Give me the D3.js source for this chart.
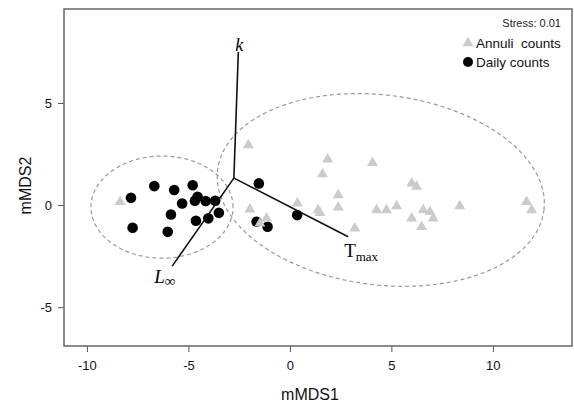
<!DOCTYPE html>
<html>
<head>
<meta charset="utf-8">
<script src="https://cdn.jsdelivr.net/npm/d3@7"></script>
<style>
  body { margin: 0; background: #fff; }
  text { font-family: "Liberation Sans", Arial, sans-serif; }
  .serif { font-family: "Liberation Serif", "Times New Roman", serif; }
</style>
</head>
<body>
<div id="chart"></div>
<script>
// mMDS scores
const dailyX = [-8.95, -7.83, -7.75, -6.68, -5.70, -5.86, -6.02, -5.31, -4.79, -4.68,
                -4.55, -4.15, -3.68, -4.63, -4.02, -3.50, -1.53, -1.64, -1.10, 0.36];
const dailyY = [-0.54, 0.36, -1.11, 0.93, 0.74, -0.46, -1.31, 0.08, 0.97, 0.21,
                0.41, 0.20, 0.21, -0.77, -0.65, -0.38, 1.06, -0.82, -1.06, -0.49];

const annuliX = [1.07, 1.86, 1.61, 4.07, 2.38, 2.38, 1.48, 0.37, 3.20, 4.27, 4.76, 5.26,
                 6.00, 6.24, 6.00, 6.57, 6.90, 7.06, 6.49, 8.37, 11.66, 11.91,
                 -2.05, -8.37, -1.97, -1.15, 1.39, -1.48];
const annuliY = [4.03, 2.24, 1.52, 2.07, 0.49, -0.11, -0.38, 0.08, -1.14, -0.25, -0.25, -0.05,
                 1.06, 0.90, -0.65, -0.25, -0.33, -0.65, -1.06, -0.05, 0.16, -0.25,
                 2.94, 0.16, -0.21, -0.65, -0.25, -0.90];

// group ellipses: centre x, centre y, semi axis x, semi axis y, rotation (deg)
const ellipseNames = ["daily", "annuli"];
const ellipseCx = [-6.3, 4.48];
const ellipseCy = [-0.1, 0.74];
const ellipseA = [3.5, 8.1];
const ellipseB = [2.5, 4.65];
const ellipseRot = [0, -7];

// biplot vectors
const vecOrigin = [-2.76, 1.32];
const vecNames = ["k", "Linf", "Tmax"];
const vecX = [-2.54, -5.80, 2.87];
const vecY = [7.5, -2.99, -1.55];

const xTicks = [-10, -5, 0, 5, 10];
const yTicks = [-5, 0, 5];

const width = 574, height = 402;
const margin = {top: 9, right: 2, bottom: 56, left: 64};

const svg = d3.select("#chart").append("svg")
    .attr("width", width)
    .attr("height", height);

const x = d3.scaleLinear().domain([-11.13, 13.9]).range([margin.left, width - margin.right]);
const y = d3.scaleLinear().domain([-6.9, 9.6]).range([height - margin.bottom, margin.top]);

// axes
const xAxis = svg.append("g")
    .attr("transform", `translate(0,${height - margin.bottom})`)
    .call(d3.axisBottom(x).tickValues(xTicks).tickSize(6).tickPadding(9).tickFormat(d3.format("d")));
const yAxis = svg.append("g")
    .attr("transform", `translate(${margin.left},0)`)
    .call(d3.axisLeft(y).tickValues(yTicks).tickSize(6).tickPadding(6).tickFormat(d3.format("d")));

[xAxis, yAxis].forEach(g => {
    g.select(".domain").remove();
    g.selectAll(".tick line").attr("stroke", "#555");
    g.selectAll(".tick text").attr("font-size", 13).attr("fill", "#111")
        .attr("font-family", "'Liberation Sans', Arial, sans-serif")
        .text(d => d < 0 ? "-" + Math.abs(d) : d);
});

svg.append("rect")
    .attr("x", margin.left)
    .attr("y", margin.top)
    .attr("width", width - margin.left - margin.right)
    .attr("height", height - margin.top - margin.bottom)
    .attr("fill", "none")
    .attr("stroke", "#666")
    .attr("stroke-width", 1.5);

svg.append("text")
    .attr("x", (margin.left + width - margin.right) / 2 - 8)
    .attr("y", height - 2)
    .attr("text-anchor", "middle")
    .attr("font-size", 16)
    .attr("fill", "#111")
    .text("mMDS1");

svg.append("text")
    .attr("transform", `translate(31,${(margin.top + height - margin.bottom) / 2 + 8}) rotate(-90)`)
    .attr("text-anchor", "middle")
    .attr("font-size", 16)
    .attr("fill", "#111")
    .text("mMDS2");

// ellipses
const line = d3.line().x(d => x(d[0])).y(d => y(d[1]));
ellipseNames.forEach((name, i) => {
    const rot = ellipseRot[i] * Math.PI / 180;
    const pts = d3.range(0, 361, 3).map(t => {
        const a = t * Math.PI / 180;
        const ex = ellipseA[i] * Math.cos(a), ey = ellipseB[i] * Math.sin(a);
        return [ellipseCx[i] + ex * Math.cos(rot) - ey * Math.sin(rot),
                ellipseCy[i] + ex * Math.sin(rot) + ey * Math.cos(rot)];
    });
    svg.append("path")
        .attr("class", "ellipse " + name)
        .attr("d", line(pts))
        .attr("fill", "none")
        .attr("stroke", "#999")
        .attr("stroke-width", 1.2)
        .attr("stroke-dasharray", "4,3");
});

const tri = d3.symbol().type(d3.symbolTriangle).size(52);

// daily counts
svg.selectAll(".daily")
    .data(dailyX.map((d, i) => [d, dailyY[i]]))
    .enter().append("circle")
    .attr("class", "daily")
    .attr("cx", d => x(d[0]))
    .attr("cy", d => y(d[1]))
    .attr("r", 5.3)
    .attr("fill", "#000");

// annuli counts
svg.selectAll(".annuli")
    .data(annuliX.map((d, i) => [d, annuliY[i]]))
    .enter().append("path")
    .attr("class", "annuli")
    .attr("d", tri)
    .attr("transform", d => `translate(${x(d[0])},${y(d[1])})`)
    .attr("fill", "#cbcbcb");

// biplot vectors
vecNames.forEach((name, i) => {
    svg.append("line")
        .attr("x1", x(vecOrigin[0])).attr("y1", y(vecOrigin[1]))
        .attr("x2", x(vecX[i])).attr("y2", y(vecY[i]))
        .attr("stroke", "#111")
        .attr("stroke-width", 1.6);
});

svg.append("text").attr("class", "serif")
    .attr("x", x(vecX[0]) + 1).attr("y", y(vecY[0]) - 1)
    .attr("text-anchor", "middle").attr("font-size", 18).attr("font-style", "italic")
    .text("k");

const lLab = svg.append("text").attr("class", "serif")
    .attr("x", x(vecX[1]) - 18).attr("y", y(vecY[1]) + 17)
    .attr("font-size", 19);
lLab.append("tspan").attr("font-style", "italic").text("L");
lLab.append("tspan").attr("font-size", 15).attr("dy", 3).text("∞");

const tLab = svg.append("text").attr("class", "serif")
    .attr("x", x(vecX[2]) - 4).attr("y", y(vecY[2]) + 20)
    .attr("font-size", 19);
tLab.append("tspan").text("T");
tLab.append("tspan").attr("font-size", 13).attr("dy", 4).text("max");

// legend
svg.append("text")
    .attr("x", 561).attr("y", 27)
    .attr("text-anchor", "end")
    .attr("font-size", 11)
    .attr("fill", "#222")
    .text("Stress: 0.01");

const legendNames = ["Annuli  counts", "Daily counts"];
svg.append("path")
    .attr("d", tri)
    .attr("transform", "translate(468,43)")
    .attr("fill", "#cbcbcb");
svg.append("circle")
    .attr("cx", 468).attr("cy", 62).attr("r", 5)
    .attr("fill", "#000");
legendNames.forEach((t, i) => {
    svg.append("text")
        .attr("x", 476).attr("y", 48 + i * 19)
        .attr("font-size", 13.5)
        .attr("fill", "#111")
        .attr("xml:space", "preserve")
        .style("white-space", "pre")
        .text(t);
});
</script>
</body>
</html>
